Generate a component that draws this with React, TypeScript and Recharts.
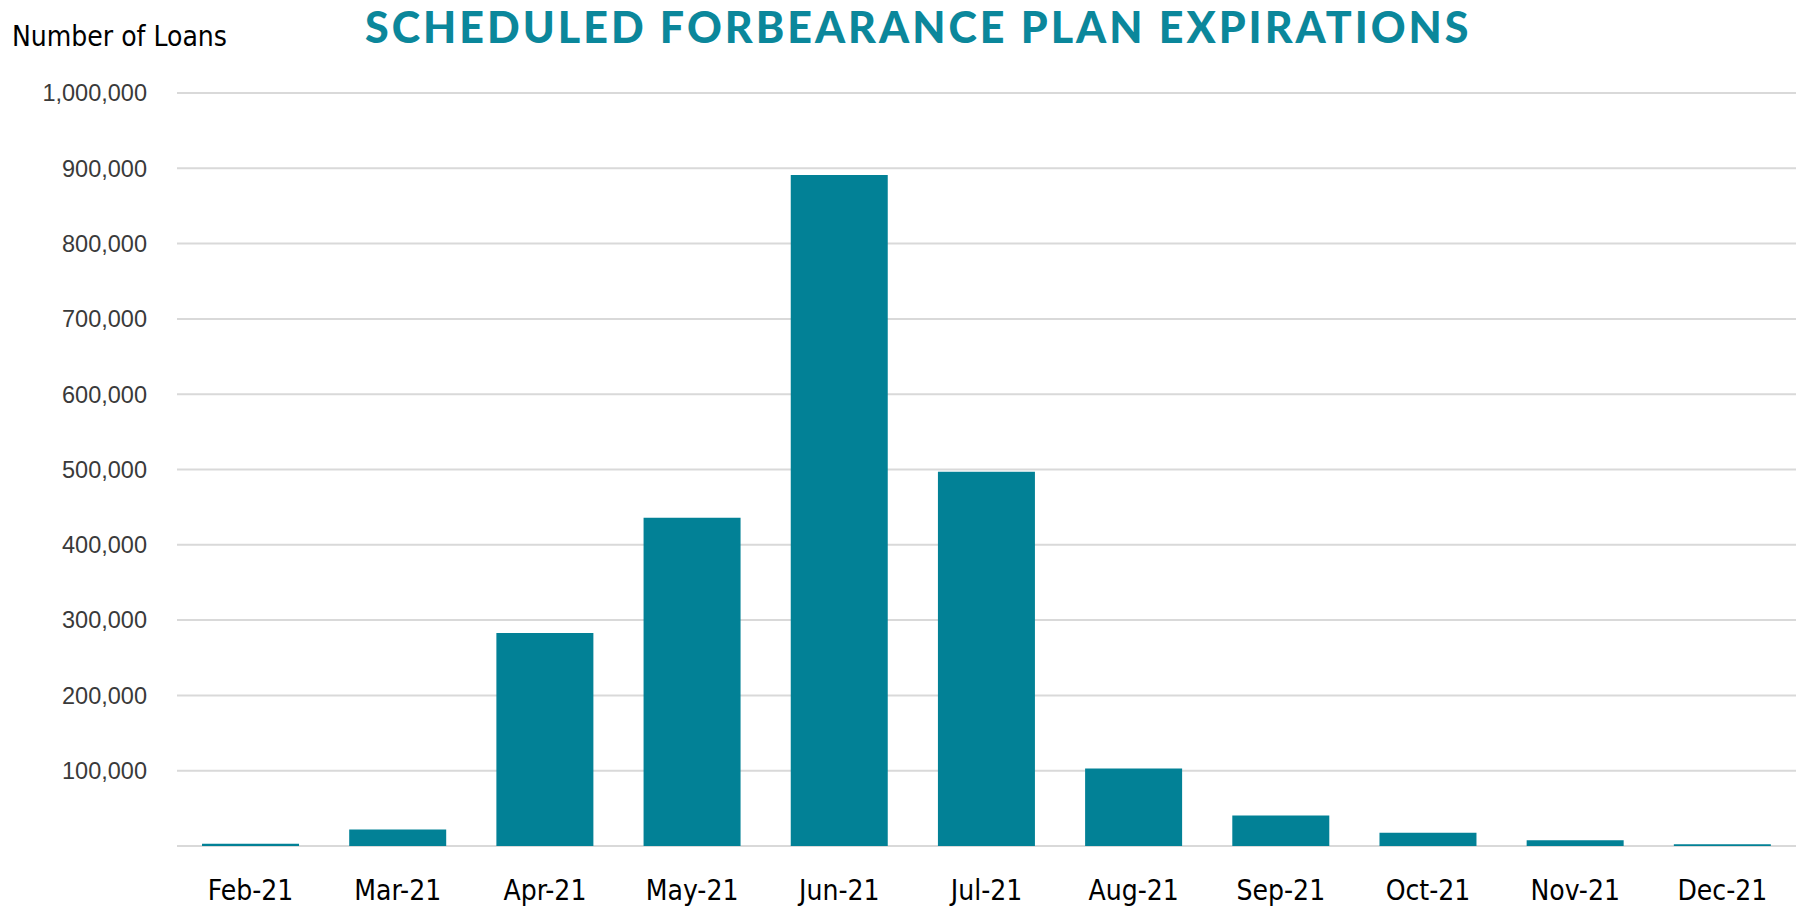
import React from 'react';
import { BarChart, Bar, XAxis, YAxis, CartesianGrid } from 'recharts';

// Scheduled forbearance plan expirations, number of loans per month
const months = ['Feb-21', 'Mar-21', 'Apr-21', 'May-21', 'Jun-21', 'Jul-21', 'Aug-21', 'Sep-21', 'Oct-21', 'Nov-21', 'Dec-21'];
const loans = [3000, 22000, 283000, 436000, 891000, 497000, 103000, 40500, 17600, 7700, 2200];
const yTicks = [0, 100000, 200000, 300000, 400000, 500000, 600000, 700000, 800000, 900000, 1000000];

const data = months.map((m, i) => ({ month: m, loans: loans[i] }));

const teal = '#028196';
const labelFont = '"DejaVu Sans Condensed", "DejaVu Sans", sans-serif';

const W = 1796;
const H = 910;

const App: React.FC = () => {
    return (
        <div style={{ position: 'absolute', left: 0, top: 0, width: W, height: H, background: '#fff' }}>
            <BarChart
                width={W}
                height={H}
                data={data}
                margin={{ top: 93, right: 0, bottom: 0, left: 0 }}
                barCategoryGap="17%"
            >
                <CartesianGrid vertical={false} stroke="#d9d9d9" strokeWidth={2} />
                <XAxis
                    dataKey="month"
                    height={64}
                    axisLine={false}
                    tickLine={false}
                    tickSize={0}
                    tickMargin={34}
                    tick={{ fill: '#000', fontSize: 28, fontFamily: labelFont }}
                />
                <YAxis
                    width={177}
                    domain={[0, 1000000]}
                    ticks={yTicks}
                    interval={0}
                    axisLine={false}
                    tickLine={false}
                    tickSize={0}
                    tickMargin={30}
                    tickFormatter={(v: number) => (v === 0 ? '' : v.toLocaleString('en-US'))}
                    tick={{ fill: '#3a3a3a', fontSize: 23.5, fontFamily: '"Liberation Sans", Arial, sans-serif' }}
                />
                <Bar dataKey="loans" fill={teal} isAnimationActive={false} />
            </BarChart>
            {/* title and axis caption drawn on top */}
            <svg width={W} height={H} style={{ position: 'absolute', left: 0, top: 0, pointerEvents: 'none' }}>
                <text x={12} y={46} fontSize={28} fontFamily={labelFont} fill="#000">
                    Number of Loans
                </text>
                <text
                    x={365}
                    y={43}
                    fontSize={43}
                    fontWeight={900}
                    letterSpacing={3}
                    fontFamily="Lato, 'Open Sans', sans-serif"
                    fill="#0b879b"
                >
                    SCHEDULED FORBEARANCE PLAN EXPIRATIONS
                </text>
            </svg>
        </div>
    );
};

export default App;
